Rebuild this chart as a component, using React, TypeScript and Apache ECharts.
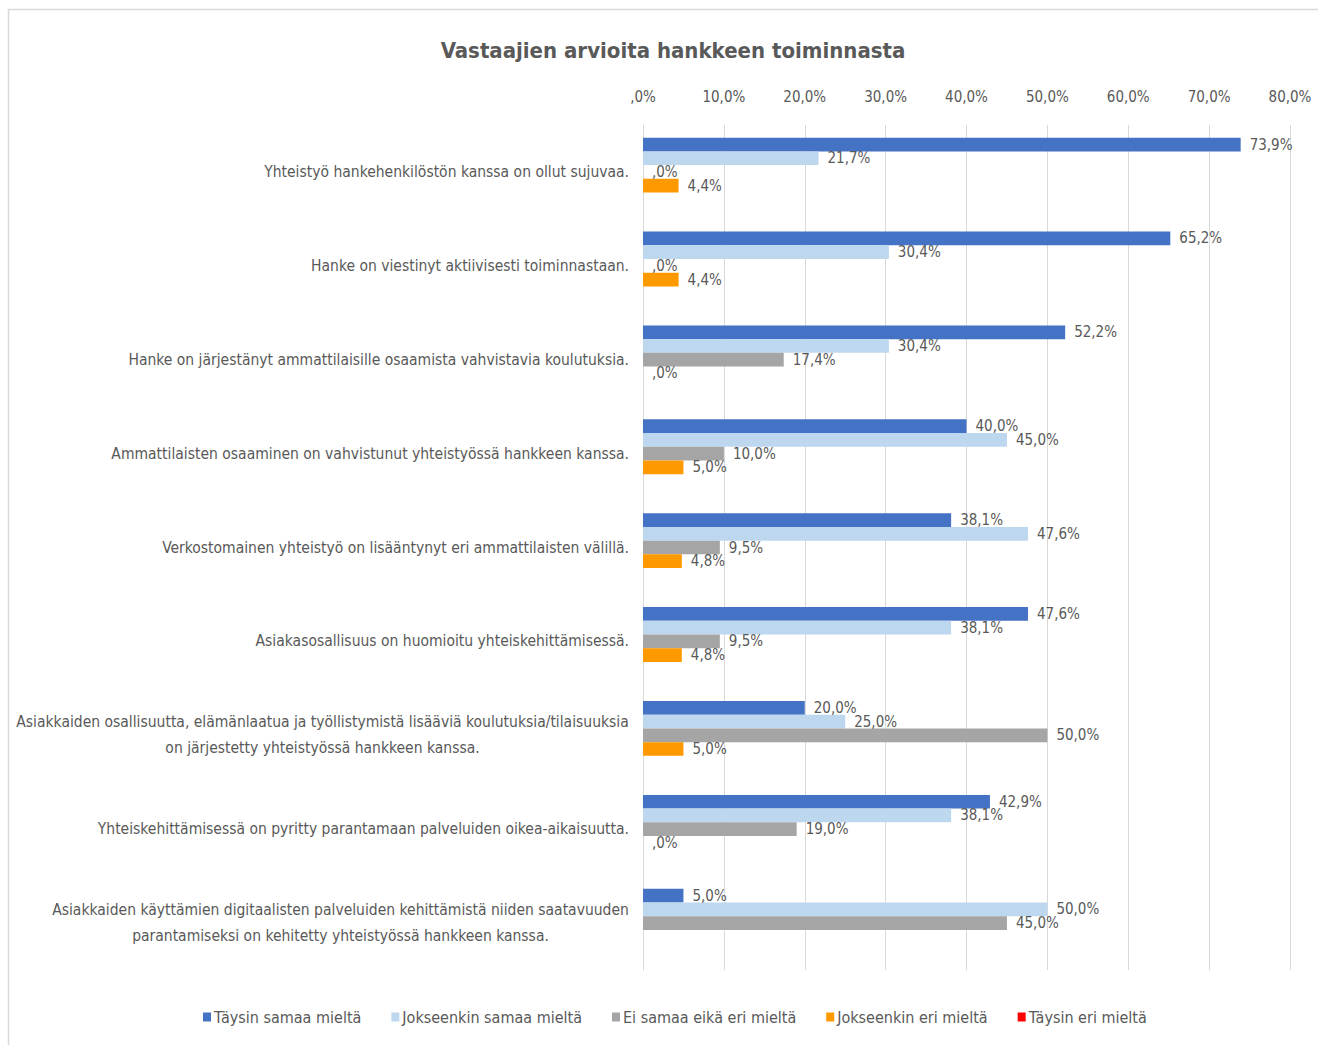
import React, { useEffect, useRef } from "react";
import * as echarts from "echarts";

const categories = [
  "Yhteistyö hankehenkilöstön kanssa on ollut sujuvaa.",
  "Hanke on viestinyt aktiivisesti toiminnastaan.",
  "Hanke on järjestänyt ammattilaisille osaamista vahvistavia koulutuksia.",
  "Ammattilaisten osaaminen on vahvistunut yhteistyössä hankkeen kanssa.",
  "Verkostomainen yhteistyö on lisääntynyt eri ammattilaisten välillä.",
  "Asiakasosallisuus on huomioitu yhteiskehittämisessä.",
  "Asiakkaiden osallisuutta, elämänlaatua ja työllistymistä lisääviä koulutuksia/tilaisuuksia\non järjestetty yhteistyössä hankkeen kanssa.",
  "Yhteiskehittämisessä on pyritty parantamaan palveluiden oikea-aikaisuutta.",
  "Asiakkaiden käyttämien digitaalisten palveluiden kehittämistä niiden saatavuuden\nparantamiseksi on kehitetty yhteistyössä hankkeen kanssa.",
];

const seriesNames = [
  "Täysin samaa mieltä",
  "Jokseenkin samaa mieltä",
  "Ei samaa eikä eri mieltä",
  "Jokseenkin eri mieltä",
  "Täysin eri mieltä",
];

const taysinSamaa = [73.9, 65.2, 52.2, 40.0, 38.1, 47.6, 20.0, 42.9, 5.0];
const jokseenkinSamaa = [21.7, 30.4, 30.4, 45.0, 47.6, 38.1, 25.0, 38.1, 50.0];
const eiSamaaEikaEri = [0, 0, 17.4, 10.0, 9.5, 9.5, 50.0, 19.0, 45.0];
const jokseenkinEri = [4.4, 4.4, 0, 5.0, 4.8, 4.8, 5.0, 0, null];
const taysinEri = [null, null, null, null, null, null, null, null, null];

const xTicks = [0, 10, 20, 30, 40, 50, 60, 70, 80];

const colors = ["#4472C4", "#BDD7EE", "#A5A5A5", "#FF9900", "#FF0000"];
const FONT = '"Liberation Sans Narrow", "DejaVu Sans Condensed", "Noto Sans", sans-serif';
const TXT = "#595959";

function fmt(v: number) {
  if (v === 0) return ",0%";
  return v.toFixed(1).replace(".", ",") + "%";
}

export default function App() {
  const ref = useRef<HTMLDivElement>(null);
  useEffect(() => {
    if (!ref.current) return;
    const chart = echarts.init(ref.current, undefined, { renderer: "svg" });

    const labelSize = 15.5;
    const ctx = document.createElement("canvas").getContext("2d")!;
    ctx.font = `${labelSize}px ${FONT}`;
    const rich: Record<string, any> = {};
    const labelMap: Record<string, string> = {};
    categories.forEach((c, i) => {
      const lines = c.split("\n");
      if (lines.length > 1) {
        const w = Math.ceil(Math.max(...lines.map((l) => ctx.measureText(l).width)));
        const key = "m" + i;
        rich[key] = { width: w, align: "center", fontSize: labelSize, fontFamily: FONT, color: TXT, lineHeight: 26 };
        labelMap[c] = lines.map((l) => `{${key}|${l}}`).join("\n");
      }
    });

    const allData = [taysinSamaa, jokseenkinSamaa, eiSamaaEikaEri, jokseenkinEri, taysinEri];

    chart.setOption({
      animation: false,
      title: {
        text: "Vastaajien arvioita hankkeen toiminnasta",
        left: 668,
        textAlign: "center",
        top: 34,
        textStyle: { fontFamily: FONT, fontSize: 22, fontWeight: "bold", color: TXT },
      },
      legend: {
        bottom: 15,
        left: 198,
        icon: "rect",
        itemWidth: 8,
        itemHeight: 9,
        itemGap: 30,
        textStyle: { fontFamily: FONT, fontSize: 16, color: TXT, padding: [0, 0, 0, -2] },
        data: seriesNames,
      },
      grid: { left: 643, right: 28, top: 125, bottom: 75, containLabel: false, outerBoundsMode: "none" },
      xAxis: {
        type: "value",
        position: "top",
        min: 0,
        max: 80,
        interval: 10,
        axisLine: { show: false },
        axisTick: { show: false },
        splitLine: { lineStyle: { color: "#D9D9D9", width: 1 } },
        axisLabel: {
          formatter: (v: number) => fmt(v),
          fontFamily: FONT,
          fontSize: 15,
          color: TXT,
          margin: 21,
          customValues: xTicks,
        },
      },
      yAxis: {
        type: "category",
        inverse: true,
        data: categories,
        axisLine: { show: true, lineStyle: { color: "#D9D9D9" } },
        axisTick: { show: false },
        axisLabel: {
          fontFamily: FONT,
          fontSize: labelSize,
          color: TXT,
          margin: 14,
          lineHeight: 26,
          formatter: (v: string) => labelMap[v] || v,
          rich,
        },
      },
      series: seriesNames.map((name, i) => ({
        name,
        type: "bar",
        data: allData[i],
        barGap: "0%",
        barCategoryGap: "27%",
        itemStyle: { color: colors[i] },
        label: {
          show: true,
          position: "right",
          distance: 9,
          fontFamily: FONT,
          fontSize: 15,
          color: TXT,
          formatter: (p: any) => (p.value == null ? "" : fmt(p.value)),
        },
      })),
      graphic: [
        { type: "line", shape: { x1: 8.5, y1: 9, x2: 8.5, y2: 1045 }, style: { stroke: "#D9D9D9", lineWidth: 1.5 } },
        { type: "line", shape: { x1: 8, y1: 9.5, x2: 1318, y2: 9.5 }, style: { stroke: "#D9D9D9", lineWidth: 1.5 } },
      ],
    });
    return () => chart.dispose();
  }, []);
  return (
    <div
      ref={ref}
      style={{ position: "absolute", left: 0, top: 0, width: 1318, height: 1045, background: "#fff" }}
    />
  );
}
